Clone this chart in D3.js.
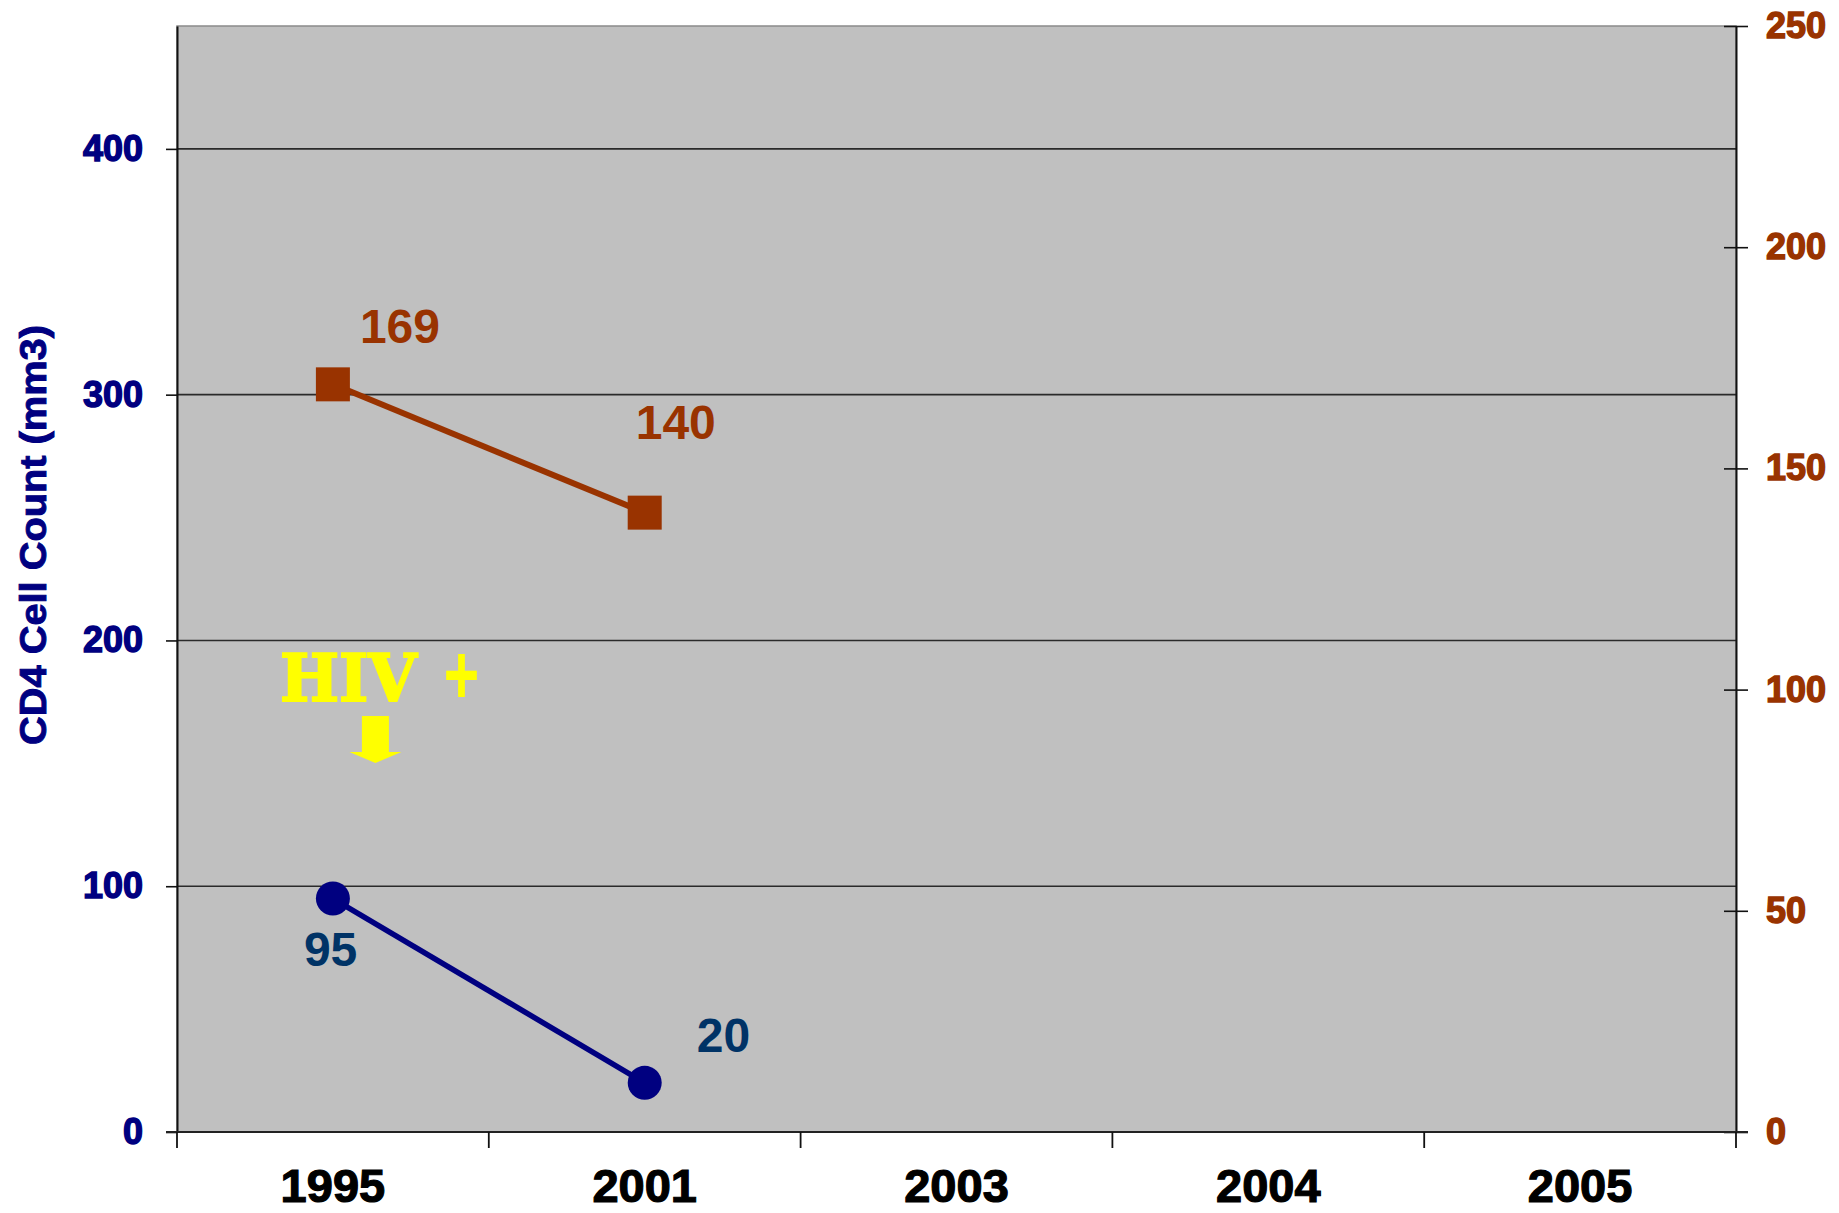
<!DOCTYPE html>
<html>
<head>
<meta charset="utf-8">
<script src="https://cdn.jsdelivr.net/npm/d3@7"></script>
<style>
  html, body { margin: 0; padding: 0; background: #ffffff; }
  svg { display: block; }
  text { font-family: "Liberation Sans", Arial, sans-serif; font-weight: bold; }
</style>
</head>
<body>
<svg id="chart" width="1839" height="1213"></svg>
<script>
// Categories along the bottom axis
const years = ["1995", "2001", "2003", "2004", "2005"];

// CD4 cell count (left axis)
const cd4Years = ["1995", "2001"];
const cd4Values = [95, 20];

// Second series on the right axis
const rightYears = ["1995", "2001"];
const rightValues = [169, 140];

// Tick values
const leftTicks = [0, 100, 200, 300, 400];
const rightTicks = [0, 50, 100, 150, 200, 250];

// Label placement relative to each marker (dx, baseline dy)
const cd4LabelOffsets = [[-29, 67], [52, -31]];
const rightLabelOffsets = [[27, -41], [-9, -74]];

const W = 1839, H = 1213;
const plot = { left: 177, right: 1736, top: 26, bottom: 1132 };

const svg = d3.select("#chart");

const x = d3.scaleBand().domain(years).range([plot.left, plot.right]).paddingInner(0).paddingOuter(0);
const xc = d => x(d) + x.bandwidth() / 2;
const yL = d3.scaleLinear().domain([0, 450]).range([plot.bottom, plot.top]);
const yR = d3.scaleLinear().domain([0, 250]).range([plot.bottom, plot.top]);

const navy = "#000080";
const brown = "#993300";
const labelBlue = "#003366";

// Plot area
svg.append("rect")
  .attr("x", plot.left).attr("y", plot.top)
  .attr("width", plot.right - plot.left).attr("height", plot.bottom - plot.top)
  .attr("fill", "#c0c0c0")
  .attr("stroke", "#8a8a8a").attr("stroke-width", 1.5);

// Horizontal gridlines from the left axis
svg.append("g").selectAll("line")
  .data(leftTicks.filter(t => t > 0))
  .join("line")
  .attr("x1", plot.left).attr("x2", plot.right)
  .attr("y1", d => yL(d)).attr("y2", d => yL(d))
  .attr("stroke", "#2a2a2a").attr("stroke-width", 1.6);

// Left axis
const gL = svg.append("g").attr("transform", `translate(${plot.left},0)`)
  .call(d3.axisLeft(yL).tickValues(leftTicks).tickSize(11).tickPadding(23).tickSizeOuter(0));
gL.select(".domain").attr("stroke", "#111").attr("stroke-width", 2);
gL.selectAll(".tick line").attr("stroke", "#111").attr("stroke-width", 1.6);
gL.selectAll(".tick text")
  .attr("fill", navy).attr("stroke", navy).attr("stroke-width", 1.4)
  .style("font-size", "36px").style("font-weight", "bold")
  .attr("font-family", "Liberation Sans, Arial, sans-serif");

// Right axis with ticks crossing the line
const gR = svg.append("g").attr("transform", `translate(${plot.right},0)`)
  .call(d3.axisRight(yR).tickValues(rightTicks).tickSize(12).tickPadding(18).tickSizeOuter(0));
gR.select(".domain").attr("stroke", "#111").attr("stroke-width", 2);
gR.selectAll(".tick line").attr("x1", -12).attr("x2", 12).attr("stroke", "#111").attr("stroke-width", 1.6);
gR.selectAll(".tick text")
  .attr("fill", brown).attr("stroke", brown).attr("stroke-width", 1.4)
  .style("font-size", "36px").style("font-weight", "bold")
  .attr("font-family", "Liberation Sans, Arial, sans-serif");

// Bottom axis: line, boundary ticks, centred year labels
const gB = svg.append("g");
gB.append("line")
  .attr("x1", plot.left - 11).attr("x2", plot.right + 12)
  .attr("y1", plot.bottom).attr("y2", plot.bottom)
  .attr("stroke", "#222").attr("stroke-width", 2);
const bounds = years.map(d => x(d)).concat([x.range()[1]]);
gB.selectAll("line.tk").data(bounds).join("line").attr("class", "tk")
  .attr("x1", d => d).attr("x2", d => d)
  .attr("y1", plot.bottom).attr("y2", plot.bottom + 16)
  .attr("stroke", "#111").attr("stroke-width", 1.8);
gB.selectAll("text").data(years).join("text")
  .attr("x", d => xc(d)).attr("y", 1202)
  .attr("text-anchor", "middle")
  .attr("fill", "#000").attr("stroke", "#000").attr("stroke-width", 1.2)
  .style("font-size", "47px")
  .text(d => d);

// Left axis title
svg.append("text")
  .attr("transform", "translate(33,535) rotate(-90)")
  .attr("text-anchor", "middle").attr("dominant-baseline", "central")
  .attr("fill", navy).attr("stroke", navy).attr("stroke-width", 0.9)
  .style("font-size", "36px")
  .attr("textLength", 420).attr("lengthAdjust", "spacingAndGlyphs")
  .text("CD4 Cell Count (mm3)");

// Right-axis series: line and square markers
const rightData = rightYears.map((d, i) => ({ year: d, value: rightValues[i], off: rightLabelOffsets[i] }));
svg.append("path")
  .datum(rightData)
  .attr("fill", "none").attr("stroke", brown).attr("stroke-width", 6)
  .attr("d", d3.line().x(d => xc(d.year)).y(d => yR(d.value)));
svg.append("g").selectAll("rect").data(rightData).join("rect")
  .attr("x", d => xc(d.year) - 17).attr("y", d => yR(d.value) - 17)
  .attr("width", 34).attr("height", 34)
  .attr("fill", brown);
svg.append("g").selectAll("text").data(rightData).join("text")
  .attr("x", d => xc(d.year) + d.off[0]).attr("y", d => yR(d.value) + d.off[1])
  .attr("fill", brown)
  .style("font-size", "48px")
  .text(d => d.value);

// CD4 series: line and circle markers
const cd4Data = cd4Years.map((d, i) => ({ year: d, value: cd4Values[i], off: cd4LabelOffsets[i] }));
svg.append("path")
  .datum(cd4Data)
  .attr("fill", "none").attr("stroke", navy).attr("stroke-width", 5.5)
  .attr("d", d3.line().x(d => xc(d.year)).y(d => yL(d.value)));
svg.append("g").selectAll("circle").data(cd4Data).join("circle")
  .attr("cx", d => xc(d.year)).attr("cy", d => yL(d.value))
  .attr("r", 17).attr("fill", navy);
svg.append("g").selectAll("text").data(cd4Data).join("text")
  .attr("x", d => xc(d.year) + d.off[0]).attr("y", d => yL(d.value) + d.off[1])
  .attr("fill", labelBlue)
  .style("font-size", "48px")
  .text(d => d.value);

// "HIV +" annotation with a downward arrow, anchored near the 1995 point
const ax = xc("1995");
const ay = yL(175);
const note = svg.append("g").attr("fill", "#ffff00");
note.append("text")
  .attr("x", ax - 53).attr("y", ay - 1)
  .attr("stroke", "#ffff00").attr("stroke-width", 2)
  .style("font-family", "'DejaVu Serif', 'Liberation Serif', serif")
  .style("font-size", "66px").style("font-weight", "bold")
  .attr("textLength", 137).attr("lengthAdjust", "spacingAndGlyphs")
  .text("HIV");
note.append("text")
  .attr("x", ax + 109).attr("y", ay - 6)
  .attr("stroke", "#ffff00").attr("stroke-width", 2)
  .style("font-family", "'DejaVu Serif', 'Liberation Serif', serif")
  .style("font-size", "66px").style("font-weight", "bold")
  .attr("textLength", 39).attr("lengthAdjust", "spacingAndGlyphs")
  .text("+");
const arrowX = ax + 42.5, arrowTop = ay + 14;
note.append("path")
  .attr("d", `M${arrowX - 13.5},${arrowTop} h27 v36 h12.5 l-26,11 l-26,-11 h12.5 z`);
</script>
</body>
</html>
